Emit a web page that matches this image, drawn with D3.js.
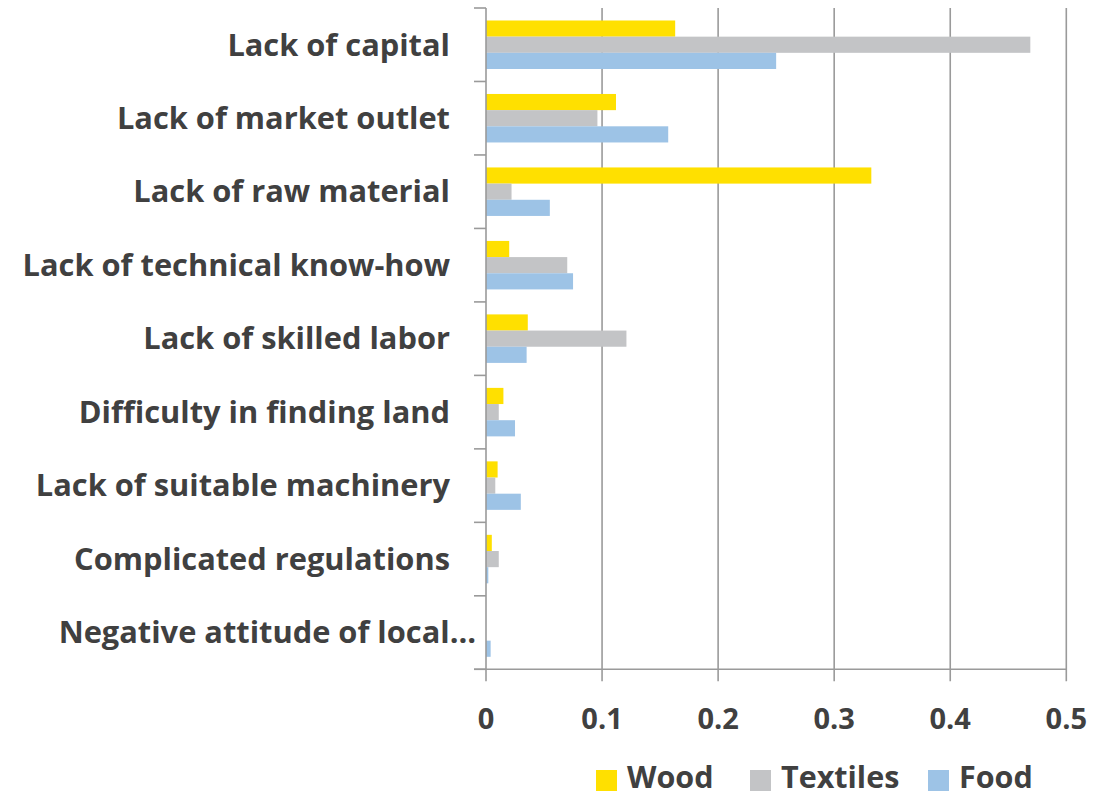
<!DOCTYPE html>
<html>
<head>
<meta charset="utf-8" />
<title>Constraints by sector</title>
<style>
  body { margin: 0; background: #fff; }
  text { font-family: "Open Sans", sans-serif; font-weight: bold; fill: #404040; }
</style>
</head>
<body>
<svg id="chart" width="1117" height="797"></svg>
<script src="https://cdn.jsdelivr.net/npm/d3@7"></script>
<script>
// categories, top to bottom
var categories = [
  "Lack of capital",
  "Lack of market outlet",
  "Lack of raw material",
  "Lack of technical know-how",
  "Lack of skilled labor",
  "Difficulty in finding land",
  "Lack of suitable machinery",
  "Complicated regulations",
  "Negative attitude of local\u2026"
];
var seriesNames = ["Wood", "Textiles", "Food"];
var seriesColors = ["#FFE000", "#C3C4C6", "#9DC3E6"];

var wood     = [0.163, 0.112, 0.332, 0.020, 0.036, 0.015, 0.010, 0.005, 0.000];
var textiles = [0.469, 0.096, 0.022, 0.070, 0.121, 0.011, 0.008, 0.011, 0.000];
var food     = [0.250, 0.157, 0.055, 0.075, 0.035, 0.025, 0.030, 0.002, 0.004];

var xTicks = [0, 0.1, 0.2, 0.3, 0.4, 0.5];

var values = [wood, textiles, food];

var svg = d3.select("#chart");
var pLeft = 486, pRight = 1066.3, pTop = 8, pBottom = 669.3;
var axisColor = "#9a9a9a";

var x = d3.scaleLinear().domain([0, 0.5]).range([pLeft, pRight]);
var y0 = d3.scaleBand().domain(categories).range([pTop, pBottom])
            .paddingInner(0.34).paddingOuter(0.17);
var y1 = d3.scaleBand().domain(seriesNames).range([0, y0.bandwidth()]);

// gridlines (with tick marks below the axis)
svg.append("g").selectAll("line")
  .data(xTicks.slice(1))
  .enter().append("line")
  .attr("x1", function(d) { return x(d); })
  .attr("x2", function(d) { return x(d); })
  .attr("y1", pTop).attr("y2", pBottom + 12)
  .attr("stroke", axisColor).attr("stroke-width", 1.6);

// bars
var groups = svg.append("g").selectAll("g")
  .data(categories)
  .enter().append("g")
  .attr("transform", function(d) { return "translate(0," + y0(d) + ")"; });

groups.selectAll("rect")
  .data(function(c, i) {
    return seriesNames.map(function(s, j) { return {s: s, v: values[j][i], c: seriesColors[j]}; });
  })
  .enter().append("rect")
  .attr("x", x(0))
  .attr("y", function(d) { return y1(d.s); })
  .attr("width", function(d) { return x(d.v) - x(0); })
  .attr("height", y1.bandwidth())
  .attr("fill", function(d) { return d.c; });

// y axis line and ticks at category boundaries
svg.append("line")
  .attr("x1", pLeft).attr("x2", pLeft).attr("y1", pTop).attr("y2", pBottom + 12)
  .attr("stroke", axisColor).attr("stroke-width", 1.6);
var step = y0.step();
var bounds = d3.range(categories.length + 1).map(function(i) { return pTop + i * step; });
svg.append("g").selectAll("line")
  .data(bounds)
  .enter().append("line")
  .attr("x1", pLeft - 12).attr("x2", pLeft)
  .attr("y1", function(d) { return d; }).attr("y2", function(d) { return d; })
  .attr("stroke", axisColor).attr("stroke-width", 1.6);

// x axis line
svg.append("line")
  .attr("x1", pLeft - 12).attr("x2", pRight).attr("y1", pBottom).attr("y2", pBottom)
  .attr("stroke", axisColor).attr("stroke-width", 1.6);

// x tick labels
svg.append("g").selectAll("text")
  .data(xTicks)
  .enter().append("text")
  .attr("x", function(d) { return x(d); })
  .attr("y", 729)
  .attr("text-anchor", "middle")
  .style("font-size", "29px")
  .text(function(d) { return d === 0 ? "0" : d3.format(".1f")(d); });

// category labels
svg.append("g").selectAll("text")
  .data(categories)
  .enter().append("text")
  .attr("x", function(d, i) { return i === categories.length - 1 ? 476 : 450; })
  .attr("y", function(d) { return y0(d) + y0.bandwidth() / 2; })
  .attr("dy", "0.35em")
  .attr("text-anchor", "end")
  .style("font-size", "30.8px")
  .text(function(d) { return d; });

// legend
var legendX = [596, 750, 928];
var legend = svg.append("g").selectAll("g")
  .data(seriesNames)
  .enter().append("g")
  .attr("transform", function(d, i) { return "translate(" + legendX[i] + ",770)"; });
legend.append("rect")
  .attr("width", 21).attr("height", 21)
  .attr("fill", function(d, i) { return seriesColors[i]; });
legend.append("text")
  .attr("x", 31).attr("y", 18)
  .style("font-size", "30.5px")
  .text(function(d) { return d; });
</script>
</body>
</html>
